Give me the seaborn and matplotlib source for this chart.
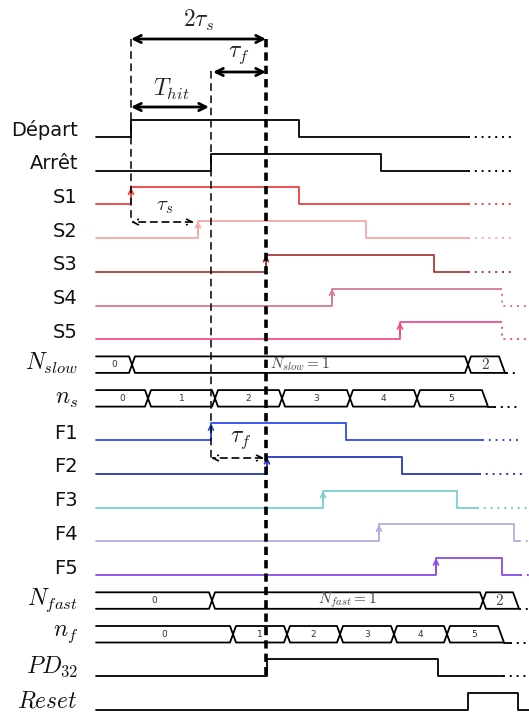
import numpy as np
import pandas as pd
import seaborn as sns
import matplotlib.pyplot as plt

# time axis: t = 0 at the rising edge of "Départ"
t_start = -35

rows = ["Départ", "Arrêt", "S1", "S2", "S3", "S4", "S5", "$N_{slow}$", "$n_s$",
        "F1", "F2", "F3", "F4", "F5", "$N_{fast}$", "$n_f$", "$PD_{32}$", "$Reset$"]

# black control signals (toggle times, starting low)
depart_edges = [0, 168]
arret_edges = [80, 250]
ctrl_solid, ctrl_dots = 337, 380
pd32_edges = [136, 307]
pd32_solid, pd32_dots = 372, 398
reset_edges = [337, 387]
reset_solid = 398

# slow channels S1..S5
s_rise = [0, 67, 135, 201, 269]
s_fall = [168, 235, 303, 371, 371]
s_solid = [337, 337, 337, 369, 369]
s_dots = [382, 382, 382, 398, 398]
s_colors = ["#ef4040", "#f7a8a8", "#a83a3a", "#d9789a", "#f0508c"]

# fast channels F1..F5
f_rise = [80, 136, 192, 248, 305]
f_fall = [215, 271, 326, 383, 371]
f_solid = [351, 348, 346, 388, 389]
f_dots = [389, 392, 398, 398, 398]
f_colors = ["#2a4cf0", "#2838b8", "#78d0d0", "#b0b0e0", "#8a4ae8"]

# counters (bus rows)
nslow_bounds = [-35, 1, 337, 371]
nslow_labels = ["0", "$N_{slow}=1$", "$2$"]
ns_bounds = [-35, 17, 84, 151, 219, 286, 354]
ns_labels = ["0", "1", "2", "3", "4", "5"]
nfast_bounds = [-35, 81, 352, 385]
nfast_labels = ["0", "$N_{fast}=1$", "$2$"]
nf_bounds = [-35, 102, 156, 209, 263, 316, 370]
nf_labels = ["0", "1", "2", "3", "4", "5"]

# characteristic times
t_hit = 80
tau_f = 55
two_tau_s = 135

sns.set_theme(style="white")
plt.rcParams['font.family'] = ['DejaVu Sans']
plt.rcParams['mathtext.fontset'] = 'cm'

fig = plt.figure(figsize=(5.29, 7.13), dpi=100)
ax = fig.add_axes([0, 0, 1, 1])
ax.set_xlim(-131, 398)
ax.set_ylim(713, 0)
ax.axis('off')

amp = 17
bus_h = 16.5
dot_style = (0, (1, 2.5))


def row_y(i):
    return 137 + 33.7 * i


def wave(edges, t0, t1):
    lvl = sum(e <= t0 for e in edges) % 2
    xs, ys = [t0], [lvl]
    for e in edges:
        if t0 < e < t1:
            xs += [e, e]
            ys += [lvl, 1 - lvl]
            lvl = 1 - lvl
    xs.append(t1)
    ys.append(lvl)
    return xs, ys


def draw_signal(i, edges, solid_end, dots_end, color, arrow=False):
    base = row_y(i)
    xs, ys = wave(edges, t_start, solid_end)
    sns.lineplot(x=xs, y=[base - amp * v for v in ys], sort=False, estimator=None,
                 color=color, lw=1.3, ax=ax)
    if dots_end > solid_end:
        xs, ys = wave(edges, solid_end, dots_end)
        sns.lineplot(x=xs, y=[base - amp * v for v in ys], sort=False, estimator=None,
                     color=color, lw=1.4, linestyle=dot_style, ax=ax)
    if arrow:
        ax.annotate("", xy=(edges[0], base - amp), xytext=(edges[0], base - 4),
                    arrowprops=dict(arrowstyle="->", color=color, lw=1.2,
                                    mutation_scale=9, shrinkA=0, shrinkB=0))


def draw_bus(i, bounds, labels, tail, dots_end):
    bot = row_y(i)
    top = bot - bus_h
    mid = bot - bus_h / 2
    d = 3
    n = len(bounds) - 1
    for k in range(n):
        a, b = bounds[k], bounds[k + 1]
        if k == 0:
            px, py = [a], [top]
        else:
            px, py = [a, a + d], [mid, top]
        if k < n - 1:
            px += [b - d, b, b - d]
        else:
            px += [b - d, b, b + d]
        py += [top, mid, bot]
        if k == 0:
            px.append(a)
            py.append(bot)
        else:
            px += [a + d, a]
            py += [bot, mid]
        ax.plot(px, py, color="black", lw=1.3, solid_joinstyle="round")
        lab = labels[k]
        if lab.startswith("$"):
            ax.text((a + b) / 2, mid, lab, ha="center", va="center",
                    fontsize=11, color="#444444")
        else:
            ax.text((a + b) / 2, mid, lab, ha="center", va="center",
                    fontsize=6.5, color="#333333")
    b = bounds[-1]
    ax.plot([b + d, b + d + tail], [bot, bot], color="black", lw=1.3)
    ax.plot([b + d + tail, dots_end], [bot, bot], color="black", lw=1.4,
            linestyle=dot_style)


# row labels
for i, name in enumerate(rows):
    if name.startswith("$"):
        ax.text(-53, row_y(i) - 9, name, ha="right", va="center", fontsize=17,
                color="#111111")
    else:
        ax.text(-53, row_y(i) - 7, name, ha="right", va="center", fontsize=14,
                color="#111111")

draw_signal(0, depart_edges, ctrl_solid, ctrl_dots, "black")
draw_signal(1, arret_edges, ctrl_solid, ctrl_dots, "black")
for k in range(5):
    draw_signal(2 + k, [s_rise[k], s_fall[k]], s_solid[k], s_dots[k], s_colors[k], arrow=True)
draw_bus(7, nslow_bounds, nslow_labels, 1, 386)
draw_bus(8, ns_bounds, ns_labels, 6, 386)
for k in range(5):
    draw_signal(9 + k, [f_rise[k], f_fall[k]], f_solid[k], f_dots[k], f_colors[k], arrow=True)
draw_bus(14, nfast_bounds, nfast_labels, 0, 398)
draw_bus(15, nf_bounds, nf_labels, 6, 398)
draw_signal(16, pd32_edges, pd32_solid, pd32_dots, "black")
draw_signal(17, reset_edges, reset_solid, reset_solid, "black")

# guides on top of the signals
ax.plot([0, 0], [39, 222], color="black", lw=1.1, dashes=(5, 3), zorder=5)
ax.plot([t_hit, t_hit], [71, 458], color="black", lw=1.1, dashes=(5, 3), zorder=5)
ax.plot([two_tau_s, two_tau_s], [39, 675], color="black", lw=2.6, dashes=(2.3, 1.4),
        zorder=5)

# timing arrows
arrow_kw = dict(arrowstyle="<->", color="black", lw=2, mutation_scale=13,
                shrinkA=0, shrinkB=0)
ax.annotate("", xy=(0, 39), xytext=(two_tau_s, 39), arrowprops=arrow_kw)
ax.annotate("", xy=(two_tau_s - tau_f + 2, 72), xytext=(two_tau_s, 72), arrowprops=arrow_kw)
ax.annotate("", xy=(0, 107), xytext=(t_hit - 2, 107), arrowprops=arrow_kw)
ax.text(two_tau_s / 2, 20, r"$2\tau_s$", ha="center", va="center", fontsize=17)
ax.text(two_tau_s - tau_f / 2, 54, r"$\tau_f$", ha="center", va="center", fontsize=17)
ax.text(t_hit / 2, 89, r"$T_{hit}$", ha="center", va="center", fontsize=17)

dash_kw = dict(arrowstyle="<->", color="black", lw=1.2, mutation_scale=10,
               linestyle=(0, (4, 3)), shrinkA=0, shrinkB=0)
ax.annotate("", xy=(0, 222), xytext=(s_rise[1] - 4, 222), arrowprops=dash_kw)
ax.text(s_rise[1] / 2, 206, r"$\tau_s$", ha="center", va="center", fontsize=15)
ax.annotate("", xy=(t_hit, 458), xytext=(two_tau_s - 2, 458), arrowprops=dash_kw)
ax.text(t_hit + tau_f / 2 + 2, 439, r"$\tau_f$", ha="center", va="center", fontsize=17)

fig.savefig("out.png", dpi=100)
